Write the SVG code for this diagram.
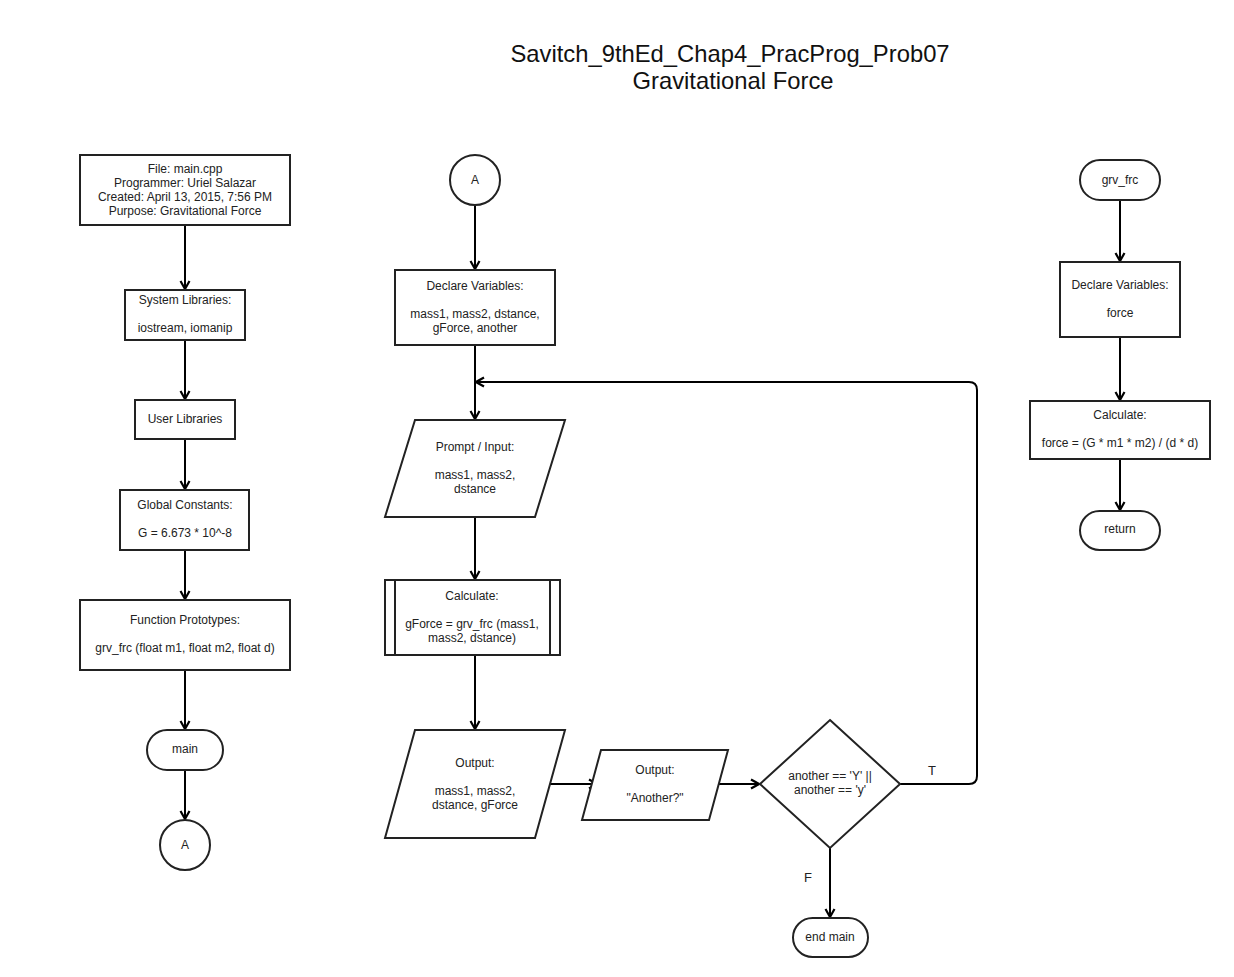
<svg xmlns="http://www.w3.org/2000/svg" width="1234" height="977" viewBox="0 0 1234 977">
<defs>
<marker id="arr" markerWidth="12" markerHeight="12" viewBox="0 0 12 12" refX="10" refY="6" orient="auto" markerUnits="userSpaceOnUse">
<path d="M2,1.5 L10,6 L2,10.5" fill="none" stroke="#000" stroke-width="2.2"/>
</marker>
</defs>
<style>
.s{fill:#fff;stroke:#222;stroke-width:2}
.t{font-family:"Liberation Sans",Arial,sans-serif;font-size:12px;fill:#222;text-anchor:middle;dominant-baseline:central}
.ti{font-family:"Liberation Sans",Arial,sans-serif;font-size:23.8px;fill:#111;text-anchor:middle;dominant-baseline:central}
.c{fill:none;stroke:#000;stroke-width:2}
.lb{font-family:"Liberation Sans",Arial,sans-serif;font-size:13px;fill:#222;text-anchor:middle;dominant-baseline:central}
</style>
<rect width="1234" height="977" fill="#fff"/>
<g id="title">
<text class="ti" x="730" y="53">Savitch_9thEd_Chap4_PracProg_Prob07</text>
<text class="ti" x="733" y="80">Gravitational Force</text>
</g>
<g id="connectors">
<line class="c" x1="185" y1="225" x2="185" y2="289" marker-end="url(#arr)"/>
<line class="c" x1="185" y1="340" x2="185" y2="399" marker-end="url(#arr)"/>
<line class="c" x1="185" y1="439" x2="185" y2="489" marker-end="url(#arr)"/>
<line class="c" x1="185" y1="550" x2="185" y2="599" marker-end="url(#arr)"/>
<line class="c" x1="185" y1="670" x2="185" y2="729" marker-end="url(#arr)"/>
<line class="c" x1="185" y1="770" x2="185" y2="819" marker-end="url(#arr)"/>
<line class="c" x1="475" y1="205" x2="475" y2="269" marker-end="url(#arr)"/>
<line class="c" x1="475" y1="345" x2="475" y2="419" marker-end="url(#arr)"/>
<line class="c" x1="475" y1="517" x2="475" y2="579" marker-end="url(#arr)"/>
<line class="c" x1="475" y1="655" x2="475" y2="729" marker-end="url(#arr)"/>
<line class="c" x1="545" y1="784" x2="597" y2="784" marker-end="url(#arr)"/>
<line class="c" x1="718" y1="784" x2="759" y2="784" marker-end="url(#arr)"/>
<path class="c" d="M900,784 H969 Q977,784 977,776 V390 Q977,382 969,382 H476" marker-end="url(#arr)"/>
<line class="c" x1="830" y1="848" x2="830" y2="917" marker-end="url(#arr)"/>
<line class="c" x1="1120" y1="200" x2="1120" y2="261" marker-end="url(#arr)"/>
<line class="c" x1="1120" y1="337" x2="1120" y2="400" marker-end="url(#arr)"/>
<line class="c" x1="1120" y1="459" x2="1120" y2="510" marker-end="url(#arr)"/>
<text class="lb" x="932" y="770">T</text>
<text class="lb" x="808" y="877">F</text>
</g>
<g id="file">
<rect class="s" x="80" y="155" width="210" height="70"/>
<text class="t" x="185" y="169">File: main.cpp</text>
<text class="t" x="185" y="183">Programmer: Uriel Salazar</text>
<text class="t" x="185" y="197">Created: April 13, 2015, 7:56 PM</text>
<text class="t" x="185" y="211">Purpose: Gravitational Force</text>
</g>
<g id="syslib">
<rect class="s" x="125" y="290" width="120" height="50"/>
<text class="t" x="185" y="300">System Libraries:</text>
<text class="t" x="185" y="328">iostream, iomanip</text>
</g>
<g id="userlib">
<rect class="s" x="135" y="400" width="100" height="39"/>
<text class="t" x="185" y="419">User Libraries</text>
</g>
<g id="globals">
<rect class="s" x="120" y="490" width="129" height="60"/>
<text class="t" x="185" y="505">Global Constants:</text>
<text class="t" x="185" y="533">G = 6.673 * 10^-8</text>
</g>
<g id="protos">
<rect class="s" x="80" y="600" width="210" height="70"/>
<text class="t" x="185" y="620">Function Prototypes:</text>
<text class="t" x="185" y="648">grv_frc (float m1, float m2, float d)</text>
</g>
<g id="main">
<rect class="s" x="147" y="730" width="76" height="40" rx="20"/>
<text class="t" x="185" y="749">main</text>
</g>
<g id="connA1">
<circle class="s" cx="185" cy="845" r="25"/>
<text class="t" x="185" y="845">A</text>
</g>
<g id="connA2">
<circle class="s" cx="475" cy="180" r="25"/>
<text class="t" x="475" y="180">A</text>
</g>
<g id="declare">
<rect class="s" x="395" y="270" width="160" height="75"/>
<text class="t" x="475" y="286">Declare Variables:</text>
<text class="t" x="475" y="314">mass1, mass2, dstance,</text>
<text class="t" x="475" y="328">gForce, another</text>
</g>
<g id="input">
<polygon class="s" points="415,420 565,420 535,517 385,517"/>
<text class="t" x="475" y="447">Prompt / Input:</text>
<text class="t" x="475" y="475">mass1, mass2,</text>
<text class="t" x="475" y="489">dstance</text>
</g>
<g id="calc">
<rect class="s" x="385" y="580" width="175" height="75"/>
<line class="s" x1="395" y1="580" x2="395" y2="655"/>
<line class="s" x1="550" y1="580" x2="550" y2="655"/>
<text class="t" x="472" y="596">Calculate:</text>
<text class="t" x="472" y="624">gForce = grv_frc (mass1,</text>
<text class="t" x="472" y="638">mass2, dstance)</text>
</g>
<g id="output1">
<polygon class="s" points="415,730 565,730 535,838 385,838"/>
<text class="t" x="475" y="763">Output:</text>
<text class="t" x="475" y="791">mass1, mass2,</text>
<text class="t" x="475" y="805">dstance, gForce</text>
</g>
<g id="output2">
<polygon class="s" points="601,750 728,750 709,820 582,820"/>
<text class="t" x="655" y="770">Output:</text>
<text class="t" x="655" y="798">"Another?"</text>
</g>
<g id="decision">
<polygon class="s" points="830,720 900,784 830,848 760,784"/>
<text class="t" x="830" y="776">another == 'Y' ||</text>
<text class="t" x="830" y="790">another == 'y'</text>
</g>
<g id="endmain">
<rect class="s" x="793" y="918" width="75" height="39" rx="19.5"/>
<text class="t" x="830" y="937">end main</text>
</g>
<g id="grvfrc">
<rect class="s" x="1080" y="160" width="80" height="40" rx="20"/>
<text class="t" x="1120" y="180">grv_frc</text>
</g>
<g id="declare2">
<rect class="s" x="1060" y="262" width="120" height="75"/>
<text class="t" x="1120" y="285">Declare Variables:</text>
<text class="t" x="1120" y="313">force</text>
</g>
<g id="calc2">
<rect class="s" x="1030" y="401" width="180" height="58"/>
<text class="t" x="1120" y="415">Calculate:</text>
<text class="t" x="1120" y="443">force = (G * m1 * m2) / (d * d)</text>
</g>
<g id="return">
<rect class="s" x="1080" y="511" width="80" height="39" rx="19.5"/>
<text class="t" x="1120" y="529">return</text>
</g>
</svg>
